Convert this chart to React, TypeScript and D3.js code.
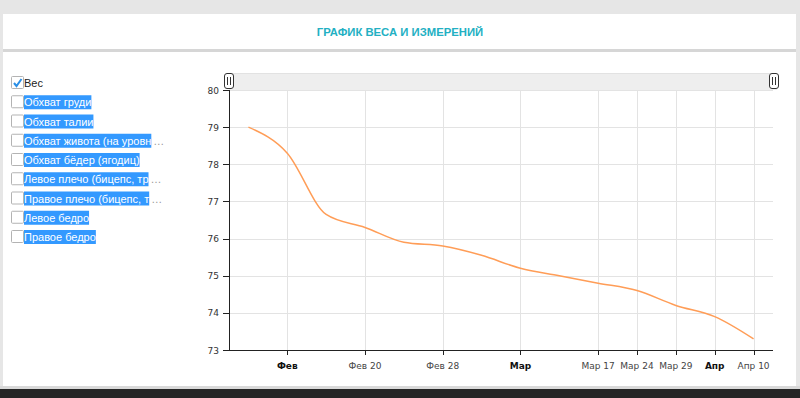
import React from 'react';
import * as d3 from 'd3';

const dates = ['2016-01-27','2016-02-06','2016-02-13','2016-02-20','2016-02-24','2016-02-28','2016-02-29','2016-03-03','2016-03-10','2016-03-17','2016-03-24','2016-03-29','2016-04-03','2016-04-10'];
const weights = [79.0, 78.3, 76.65, 76.3, 75.9, 75.8, 75.55, 75.2, 75.0, 74.8, 74.6, 74.2, 73.9, 73.3];
const tickLabels = ['', 'Фев', '', 'Фев 20', '', 'Фев 28', '', 'Мар', '', 'Мар 17', 'Мар 24', 'Мар 29', 'Апр', 'Апр 10'];
const yTicks = [73, 74, 75, 76, 77, 78, 79, 80];
const legendLabels = ['Вес', 'Обхват груди', 'Обхват талии', 'Обхват живота (на уровне пупка)', 'Обхват бёдер (ягодиц)', 'Левое плечо (бицепс, трицепс)', 'Правое плечо (бицепс, трицепс)', 'Левое бедро', 'Правое бедро'];
const legendChecked = [true, false, false, false, false, false, false, false, false];
const title = 'ГРАФИК ВЕСА И ИЗМЕРЕНИЙ';

const W = 800, H = 398;
const plot = { left: 229, right: 773, top: 90, bottom: 350 };
const axisFont = '"DejaVu Sans", Verdana, sans-serif';
const uiFont = '"Liberation Sans", Arial, sans-serif';
const legendFontSize = 11;

let ctx: CanvasRenderingContext2D | null = null;
function measure(text: string, font: string) {
  if (!ctx) ctx = document.createElement('canvas').getContext('2d');
  if (!ctx) return text.length * 6;
  ctx.font = font;
  return ctx.measureText(text).width;
}
function fit(text: string, font: string, maxW: number) {
  if (measure(text, font) <= maxW) return { text, w: measure(text, font), cut: false };
  let s = text;
  while (s.length > 1 && measure(s, font) > maxW) s = s.slice(0, -1);
  return { text: s, w: measure(s, font), cut: true };
}

export default function App() {
  const x = d3.scalePoint<number>().domain(dates.map((_, i) => i)).range([plot.left, plot.right]).padding(0.5);
  const y = d3.scaleLinear().domain([73, 80]).range([plot.bottom, plot.top]);
  const line = d3.line<number>().x((_, i) => x(i)!).y(d => y(d)).curve(d3.curveMonotoneX);
  const maxText = 129;
  const lf = `${legendFontSize}px ${uiFont}`;

  return (
    <svg width={W} height={H} style={{ position: 'absolute', left: 0, top: 0, display: 'block' }}>
      <rect x={0} y={0} width={W} height={H} fill="#e6e6e6" />
      <rect x={3} y={14} width={793} height={35} fill="#ffffff" />
      <rect x={3} y={49} width={793} height={3} fill="#d6d6d6" />
      <rect x={3} y={52} width={793} height={334} fill="#ffffff" />
      <rect x={0} y={386} width={W} height={3} fill="#d9d9d9" />
      <rect x={0} y={389} width={W} height={9} fill="#262626" />

      <text x={400} y={36} textAnchor="middle" fontFamily={uiFont} fontWeight="bold" fontSize={11.3} fill="#23b0c3">{title}</text>

      {legendLabels.map((lab, i) => {
        const cy = 83 + i * 19.25;
        const f = fit(lab, lf, maxText);
        return (
          <g key={lab}>
            <rect x={11.5} y={cy - 6.5} width={12} height={12} rx={1} fill="#fff" stroke="#b3b3b3" />
            {legendChecked[i] && (
              <path d={`M${14},${cy} L${16.5},${cy + 3} L${21.5},${cy - 4}`} fill="none" stroke="#2a8fe6" strokeWidth={2} />
            )}
            {!legendChecked[i] && <rect x={24} y={cy - 7} width={f.w} height={14} fill="#3399ff" />}
            <text x={24} y={cy + 4} fontFamily={uiFont} fontSize={legendFontSize} fill={legendChecked[i] ? '#222' : '#fff'}>{f.text}</text>
            {f.cut && <text x={24 + f.w + 2} y={cy + 4} fontFamily={uiFont} fontSize={legendFontSize} fill="#999">…</text>}
          </g>
        );
      })}

      <rect x={plot.left} y={73} width={548} height={17} fill="#eeeeee" />
      <line x1={plot.left} x2={777} y1={73.5} y2={73.5} stroke="#e2e2e2" />
      {[plot.left, 774].map((hx, k) => (
        <g key={k}>
          <rect x={hx - 4.5} y={73.5} width={9} height={15} rx={2.5} fill="#fff" stroke="#333" strokeWidth={1} />
          <line x1={hx - 1.5} x2={hx - 1.5} y1={77} y2={85} stroke="#333" />
          <line x1={hx + 1.5} x2={hx + 1.5} y1={77} y2={85} stroke="#333" />
        </g>
      ))}

      {yTicks.map(t => (
        <line key={'gy' + t} x1={plot.left} x2={plot.right} y1={Math.round(y(t)) + 0.5} y2={Math.round(y(t)) + 0.5} stroke="#e3e3e3" />
      ))}
      {tickLabels.map((lab, i) => lab ? (
        <line key={'gx' + i} x1={Math.round(x(i)!) + 0.5} x2={Math.round(x(i)!) + 0.5} y1={plot.top} y2={plot.bottom} stroke="#e3e3e3" />
      ) : null)}

      <line x1={plot.left + 0.5} x2={plot.left + 0.5} y1={plot.top} y2={plot.bottom} stroke="#222" />
      <line x1={plot.left} x2={plot.right} y1={plot.bottom + 0.5} y2={plot.bottom + 0.5} stroke="#222" />
      {yTicks.map(t => (
        <g key={'ty' + t}>
          <line x1={plot.left - 6} x2={plot.left} y1={Math.round(y(t)) + 0.5} y2={Math.round(y(t)) + 0.5} stroke="#222" />
          <text x={plot.left - 10} y={y(t) + 3.5} textAnchor="end" fontFamily={axisFont} fontSize={9} fill="#333">{t}</text>
        </g>
      ))}
      {tickLabels.map((lab, i) => lab ? (
        <g key={'tx' + i}>
          <line x1={Math.round(x(i)!) + 0.5} x2={Math.round(x(i)!) + 0.5} y1={plot.bottom} y2={plot.bottom + 5} stroke="#222" />
          <text x={x(i)!} y={plot.bottom + 19} textAnchor="middle" fontFamily={axisFont} fontSize={9}
            fontWeight={/\d/.test(lab) ? 'normal' : 'bold'} fill={/\d/.test(lab) ? '#444' : '#111'}>{lab}</text>
        </g>
      ) : null)}

      <path d={line(weights) || ''} fill="none" stroke="#ff9d57" strokeWidth={1.5} />
    </svg>
  );
}
